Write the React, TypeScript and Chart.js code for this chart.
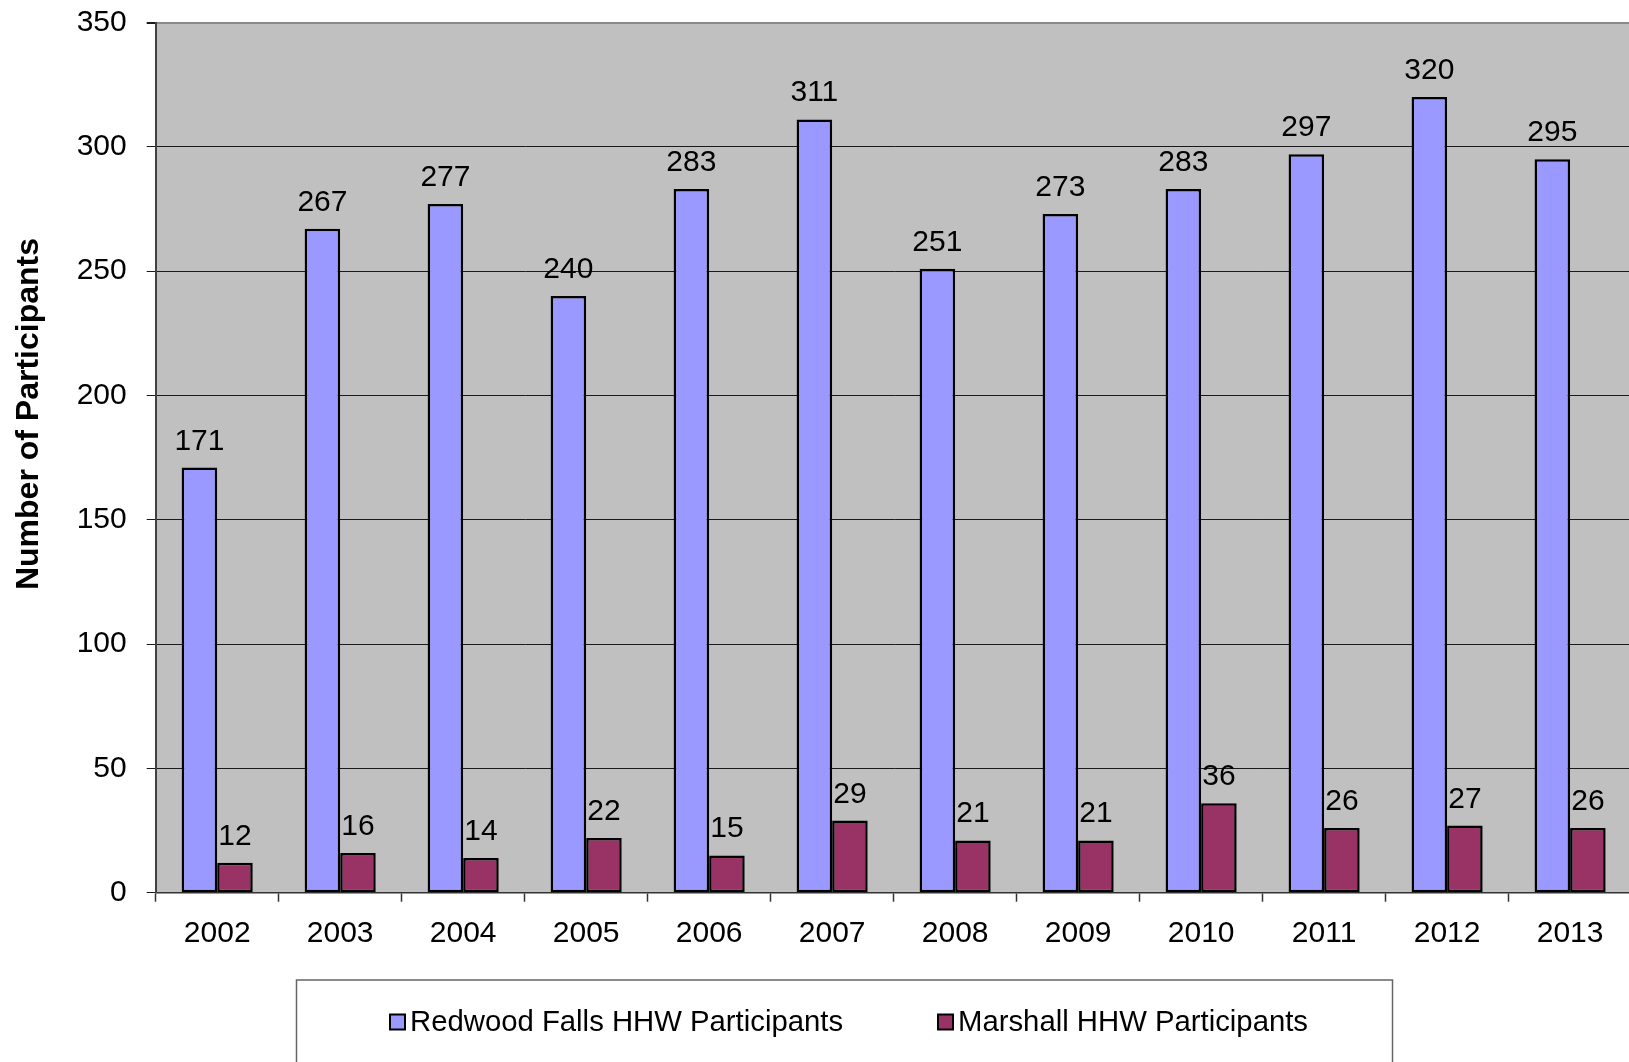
import React, { useEffect, useRef } from 'react';
import { Chart, registerables } from 'chart.js';

Chart.register(...registerables);

const years = ['2002', '2003', '2004', '2005', '2006', '2007', '2008', '2009', '2010', '2011', '2012', '2013'];
const redwoodFalls = [171, 267, 277, 240, 283, 311, 251, 273, 283, 297, 320, 295];
const marshall = [12, 16, 14, 22, 15, 29, 21, 21, 36, 26, 27, 26];
const seriesNames = ['Redwood Falls HHW Participants', 'Marshall HHW Participants'];
const seriesColors = ['#9999FF', '#993366'];
const yAxisTitle = 'Number of Participants';
const yMin = 0;
const yMax = 350;
const yStep = 50;

const FONT = '"Liberation Sans", Arial, sans-serif';

const CANVAS_W = 1700;
const CANVAS_H = 1100;

const bgPlugin = {
  id: 'plotBg',
  beforeDraw(chart: any) {
    const { ctx, chartArea } = chart;
    if (!chartArea) return;
    ctx.save();
    ctx.fillStyle = '#C0C0C0';
    ctx.fillRect(chartArea.left, chartArea.top, chartArea.right - chartArea.left, chartArea.bottom - chartArea.top);
    ctx.restore();
  },
};

const labelPlugin = {
  id: 'valueLabels',
  afterDatasetsDraw(chart: any) {
    const { ctx } = chart;
    ctx.save();
    ctx.font = `30px ${FONT}`;
    ctx.fillStyle = '#000';
    ctx.textAlign = 'center';
    ctx.textBaseline = 'alphabetic';
    chart.data.datasets.forEach((ds: any, di: number) => {
      const meta = chart.getDatasetMeta(di);
      meta.data.forEach((el: any, i: number) => {
        ctx.fillText(String(ds.data[i]), el.x, el.y - 18);
      });
    });
    ctx.restore();
  },
};

const extrasPlugin = {
  id: 'extras',
  afterDraw(chart: any) {
    const { ctx } = chart;
    ctx.save();
    // y-axis title
    ctx.translate(38, 414);
    ctx.rotate(-Math.PI / 2);
    ctx.font = `bold 32px ${FONT}`;
    ctx.fillStyle = '#000';
    ctx.textAlign = 'center';
    ctx.textBaseline = 'alphabetic';
    ctx.fillText(yAxisTitle, 0, 0);
    ctx.restore();

    // legend box
    ctx.save();
    ctx.strokeStyle = '#666';
    ctx.lineWidth = 1.5;
    ctx.strokeRect(296.5, 980, 1096, 200);
    const items = [
      { x: 390, tx: 410, name: seriesNames[0], color: seriesColors[0] },
      { x: 938, tx: 958, name: seriesNames[1], color: seriesColors[1] },
    ];
    ctx.font = `29.3px ${FONT}`;
    ctx.textBaseline = 'alphabetic';
    ctx.textAlign = 'left';
    items.forEach((it) => {
      ctx.fillStyle = it.color;
      ctx.fillRect(it.x, 1014.5, 15, 15);
      ctx.strokeStyle = '#000';
      ctx.lineWidth = 2;
      ctx.strokeRect(it.x, 1014.5, 15, 15);
      ctx.fillStyle = '#000';
      ctx.fillText(it.name, it.tx, 1031);
    });
    ctx.restore();
  },
};

export default function App() {
  const ref = useRef<HTMLCanvasElement | null>(null);

  useEffect(() => {
    if (!ref.current) return;
    const chart = new Chart(ref.current, {
      type: 'bar',
      data: {
        labels: years,
        datasets: [
          {
            label: seriesNames[0],
            data: redwoodFalls,
            backgroundColor: seriesColors[0],
            borderColor: '#000',
            borderWidth: 2.5,
            borderSkipped: false,
            categoryPercentage: 0.578,
            barPercentage: 1.0,
          },
          {
            label: seriesNames[1],
            data: marshall,
            backgroundColor: seriesColors[1],
            borderColor: '#000',
            borderWidth: 2.5,
            borderSkipped: false,
            categoryPercentage: 0.578,
            barPercentage: 1.0,
          },
        ],
      },
      options: {
        animation: false,
        responsive: false,
        devicePixelRatio: 1,
        layout: { padding: { left: 0, top: 22.5, right: CANVAS_W - 1631.6, bottom: CANVAS_H - 892.7 - 60 } },
        plugins: {
          legend: { display: false },
          tooltip: { enabled: false },
        },
        scales: {
          x: {
            offset: true,
            grid: {
              offset: true,
              drawOnChartArea: false,
              drawTicks: true,
              tickLength: 9,
              tickColor: '#333',
              tickWidth: 1.5,
            },
            border: { color: '#333', width: 1.5 },
            ticks: {
              color: '#000',
              font: { size: 30, family: FONT },
              padding: 14,
              maxRotation: 0,
              autoSkip: false,
            },
            afterFit: (s: any) => {
              s.height = 60;
              s.paddingLeft = 0;
              s.paddingRight = 0;
            },
          },
          y: {
            min: yMin,
            max: yMax,
            ticks: {
              stepSize: yStep,
              color: '#000',
              font: { size: 30, family: FONT },
              padding: 20,
            },
            grid: {
              color: (c: any) => (c.tick && c.tick.value === yMax ? '#8a8a8a' : '#1a1a1a'),
              lineWidth: (c: any) => (c.tick && c.tick.value === yMax ? 2 : 1),
              tickLength: 9,
              tickColor: '#1a1a1a',
            },
            border: { color: '#404040', width: 2 },
            afterFit: (s: any) => {
              s.width = 155.7;
              s.paddingTop = 0;
              s.paddingBottom = 0;
            },
          },
        },
      },
      plugins: [bgPlugin, labelPlugin, extrasPlugin],
    });
    return () => chart.destroy();
  }, []);

  return (
    <div style={{ position: 'fixed', left: 0, top: 0, width: 1629, height: 1062, overflow: 'hidden', background: '#fff' }}>
      <canvas ref={ref} width={CANVAS_W} height={CANVAS_H} style={{ width: CANVAS_W, height: CANVAS_H, display: 'block' }} />
    </div>
  );
}
